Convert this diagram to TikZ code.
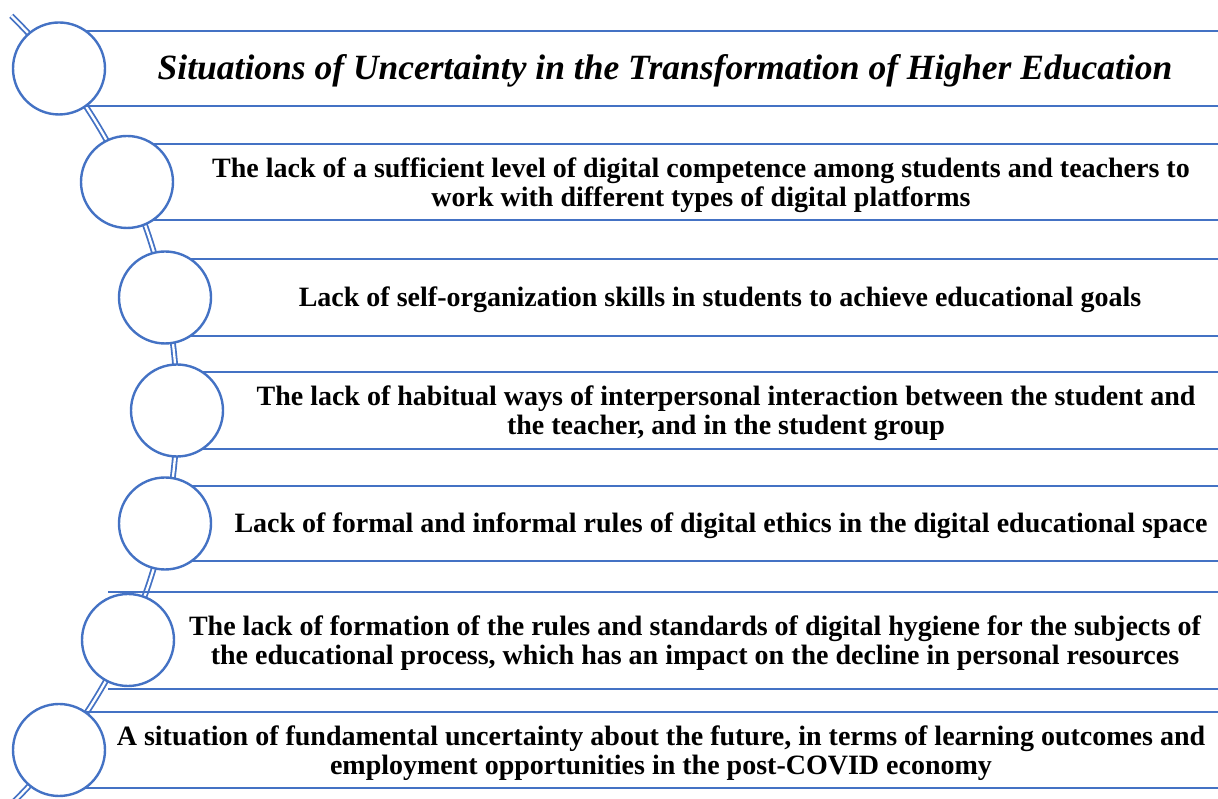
\documentclass[tikz,border=0pt]{standalone}
\usepackage{fontspec}
\setmainfont{Liberation Serif}
\definecolor{sablue}{HTML}{4472C4}
\begin{document}
\begin{tikzpicture}[x=1pt,y=1pt,
  band/.style={draw=sablue,line width=2.6pt},
  ring/.style={circle,draw=sablue,line width=2.4pt,fill=white,minimum size=92pt,inner sep=0pt},
  itemtext/.style={font=\fontsize{28}{28.8}\selectfont\bfseries,align=center,inner sep=0pt},
  titletext/.style={font=\fontsize{35.5}{38}\selectfont\bfseries\itshape,inner sep=0pt}]
\useasboundingbox (0,0) rectangle (1218,799);
% spine
\draw[sablue,line width=1.8pt,double=white,double distance=2.3pt]
  (-374.7,389) ++(45.6:551.7) arc[start angle=45.6,end angle=-47,radius=551.7];
% bands
\foreach \xs/\yt/\yb in {39/768/693, 107/655/579, 145/540/463, 157/427/350, 145/313/238, 108/207/110, 39/87/11}{
  \draw[band] (\xs,\yt) -- (1218,\yt);
  \draw[band] (\xs,\yb) -- (1218,\yb);
}
% circles
\node[ring] (c1) at (59,730.5) {};
\node[ring] (c2) at (127,617) {};
\node[ring] (c3) at (165,501.5) {};
\node[ring] (c4) at (177,388.5) {};
\node[ring] (c5) at (165,275.5) {};
\node[ring] (c6) at (128,159) {};
\node[ring] (c7) at (59,49) {};
% texts
\node[titletext,anchor=base] (t1) at (665,719) {Situations of Uncertainty in the Transformation of Higher Education};
\node[itemtext] (t2) at (701,614) {The lack of a sufficient level of digital competence among students and teachers to\\work with different types of digital platforms};
\node[itemtext] (t3) at (720,499) {Lack of self-organization skills in students to achieve educational goals};
\node[itemtext] (t4) at (726,385.5) {The lack of habitual ways of interpersonal interaction between the student and\\the teacher, and in the student group};
\node[itemtext] (t5) at (721,273) {Lack of formal and informal rules of digital ethics in the digital educational space};
\node[itemtext] (t6) at (695,155.5) {The lack of formation of the rules and standards of digital hygiene for the subjects of\\the educational process, which has an impact on the decline in personal resources};
\node[itemtext] (t7) at (661,46) {A situation of fundamental uncertainty about the future, in terms of learning outcomes and\\employment opportunities in the post-COVID economy};
\end{tikzpicture}
\end{document}
